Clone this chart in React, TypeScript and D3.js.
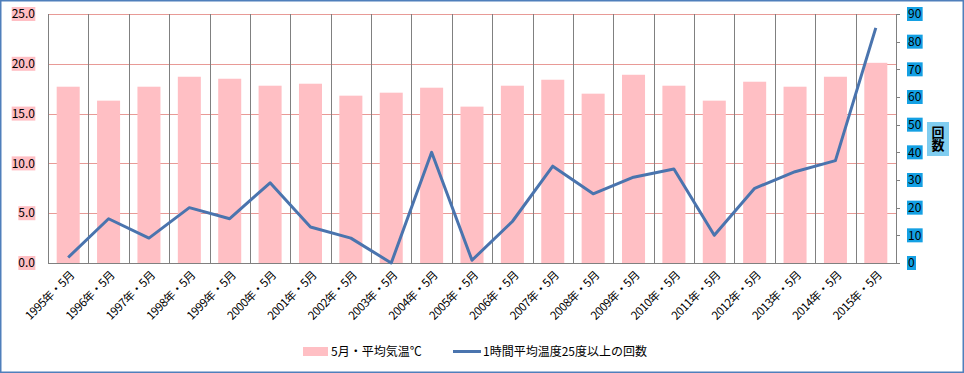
import { useEffect, useRef } from "react";
import * as d3 from "d3";

const years = [
  "1995", "1996", "1997", "1998", "1999", "2000", "2001", "2002", "2003", "2004", "2005",
  "2006", "2007", "2008", "2009", "2010", "2011", "2012", "2013", "2014", "2015",
];
const categories = years.map((y) => `${y}年・5月`);
// 5月・平均気温℃ (left axis)
const avgTemp = [
  17.7, 16.3, 17.7, 18.7, 18.5, 17.8, 18.0, 16.8, 17.1, 17.6, 15.7,
  17.8, 18.4, 17.0, 18.9, 17.8, 16.3, 18.2, 17.7, 18.7, 20.1,
];
// 1時間平均温度25度以上の回数 (right axis)
const hotCount = [2, 16, 9, 20, 16, 29, 13, 9, 0, 40, 1, 15, 35, 25, 31, 34, 10, 27, 33, 37, 85];
const leftTicks = [0, 5, 10, 15, 20, 25];
const rightTicks = [0, 10, 20, 30, 40, 50, 60, 70, 80, 90];
const barLabel = "5月・平均気温℃";
const lineLabel = "1時間平均温度25度以上の回数";
const rightTitle = "回数";

const W = 964;
const H = 373;
const FONT = "'Noto Sans CJK JP', 'Noto Sans', sans-serif";

export default function App() {
  const svgRef = useRef<SVGSVGElement>(null);

  useEffect(() => {
    const svg = d3.select(svgRef.current);
    svg.selectAll("*").remove();

    const m = { top: 14, right: 68, bottom: 110, left: 48 };
    const x0 = m.left;
    const x1 = W - m.right;
    const y0 = H - m.bottom;
    const y1 = m.top;

    const x = d3.scaleBand().domain(categories).range([x0, x1]).paddingInner(0).paddingOuter(0);
    const yL = d3.scaleLinear().domain([0, 25]).range([y0, y1]);
    const yR = d3.scaleLinear().domain([0, 90]).range([y0, y1]);

    svg.append("rect").attr("width", W).attr("height", H).attr("fill", "#fff");

    // horizontal grid
    svg
      .append("g")
      .selectAll("line")
      .data(leftTicks.slice(1))
      .join("line")
      .attr("x1", x0)
      .attr("x2", x1)
      .attr("y1", (d) => Math.round(yL(d)) + 0.5)
      .attr("y2", (d) => Math.round(yL(d)) + 0.5)
      .attr("stroke", "#e89a96")
      .attr("stroke-width", 1);

    // vertical category lines
    svg
      .append("g")
      .selectAll("line")
      .data(categories)
      .join("line")
      .attr("x1", (d) => Math.round(x(d)!) + 0.5)
      .attr("x2", (d) => Math.round(x(d)!) + 0.5)
      .attr("y1", y1)
      .attr("y2", y0)
      .attr("stroke", "#808080")
      .attr("stroke-width", 1);

    // bars
    const bw = x.bandwidth() * 0.57;
    svg
      .append("g")
      .selectAll("rect")
      .data(avgTemp)
      .join("rect")
      .attr("x", (_, i) => x(categories[i])! + (x.bandwidth() - bw) / 2)
      .attr("y", (d) => yL(d))
      .attr("width", bw)
      .attr("height", (d) => y0 - yL(d))
      .attr("fill", "#ffbfc4");

    // bottom axis line + right axis line
    svg
      .append("line")
      .attr("x1", x0)
      .attr("x2", x1)
      .attr("y1", Math.round(y0) + 0.5)
      .attr("y2", Math.round(y0) + 0.5)
      .attr("stroke", "#808080");
    svg
      .append("line")
      .attr("x1", Math.round(x1) + 0.5)
      .attr("x2", Math.round(x1) + 0.5)
      .attr("y1", y1)
      .attr("y2", y0)
      .attr("stroke", "#808080");

    // line
    const line = d3
      .line<number>()
      .x((_, i) => x(categories[i])! + x.bandwidth() / 2)
      .y((d) => yR(d));
    svg
      .append("path")
      .datum(hotCount)
      .attr("d", line)
      .attr("fill", "none")
      .attr("stroke", "#4a74ae")
      .attr("stroke-width", 3)
      .attr("stroke-linejoin", "round");

    // left tick labels with pink background
    const lg = svg.append("g").attr("font-family", FONT).attr("font-size", 12);
    leftTicks.forEach((t) => {
      const label = t.toFixed(1);
      const g = lg.append("g").attr("transform", `translate(35,${yL(t)})`);
      const txt = g
        .append("text")
        .attr("text-anchor", "end")
        .attr("dy", "0.35em")
        .attr("fill", "#000")
        .text(label);
      const bb = (txt.node() as SVGTextElement).getBBox();
      g.insert("rect", "text")
        .attr("x", bb.x)
        .attr("y", -7)
        .attr("width", bb.width)
        .attr("height", 14)
        .attr("fill", "#ffbfc4");
    });

    // right ticks and labels with blue background
    const rg = svg.append("g").attr("font-family", FONT).attr("font-size", 12);
    rightTicks.forEach((t) => {
      const yy = Math.round(yR(t)) + 0.5;
      rg.append("line")
        .attr("x1", x1)
        .attr("x2", x1 + 4)
        .attr("y1", yy)
        .attr("y2", yy)
        .attr("stroke", "#808080");
      const g = rg.append("g").attr("transform", `translate(908,${yR(t)})`);
      const txt = g.append("text").attr("dy", "0.35em").attr("fill", "#000").text(String(t));
      const bb = (txt.node() as SVGTextElement).getBBox();
      g.insert("rect", "text")
        .attr("x", bb.x - 1)
        .attr("y", -7)
        .attr("width", bb.width + 2)
        .attr("height", 14)
        .attr("fill", "#14a0e3");
    });

    // right axis title (vertical text)
    const tg = svg.append("g").attr("font-family", FONT).attr("font-size", 13).attr("font-weight", "bold");
    tg.append("rect").attr("x", 927).attr("y", 122).attr("width", 22).attr("height", 34).attr("fill", "#80cdf0");
    tg.append("text")
      .attr("x", 938)
      .attr("y", 139)
      .attr("text-anchor", "middle")
      .style("writing-mode", "vertical-rl")
      .attr("fill", "#000")
      .text(rightTitle);

    // x labels, rotated
    svg
      .append("g")
      .attr("font-family", FONT)
      .attr("font-size", 11.5)
      .selectAll("text")
      .data(categories)
      .join("text")
      .attr("transform", (d) => `translate(${x(d)! + x.bandwidth() / 2 + 4},${y0 + 10}) rotate(-45)`)
      .attr("text-anchor", "end")
      .attr("dy", "0.35em")
      .attr("letter-spacing", -0.4)
      .attr("fill", "#000")
      .text((d) => d);

    // legend
    const leg = svg.append("g").attr("font-family", FONT).attr("font-size", 12).attr("fill", "#000");
    leg.append("rect").attr("x", 303).attr("y", 347).attr("width", 25).attr("height", 9).attr("fill", "#ffbfc4");
    leg.append("text").attr("x", 331).attr("y", 352).attr("dy", "0.35em").text(barLabel);
    leg
      .append("line")
      .attr("x1", 453)
      .attr("x2", 481)
      .attr("y1", 351.5)
      .attr("y2", 351.5)
      .attr("stroke", "#4a74ae")
      .attr("stroke-width", 3);
    leg.append("text").attr("x", 483).attr("y", 352).attr("dy", "0.35em").text(lineLabel);

    // outer border
    svg
      .append("rect")
      .attr("x", 0.75)
      .attr("y", 0.75)
      .attr("width", W - 1.5)
      .attr("height", H - 1.5)
      .attr("fill", "none")
      .attr("stroke", "#4f7fbb")
      .attr("stroke-width", 1.5);
  }, []);

  return (
    <div style={{ position: "fixed", left: 0, top: 0 }}>
      <svg ref={svgRef} width={W} height={H} style={{ display: "block" }} />
    </div>
  );
}
